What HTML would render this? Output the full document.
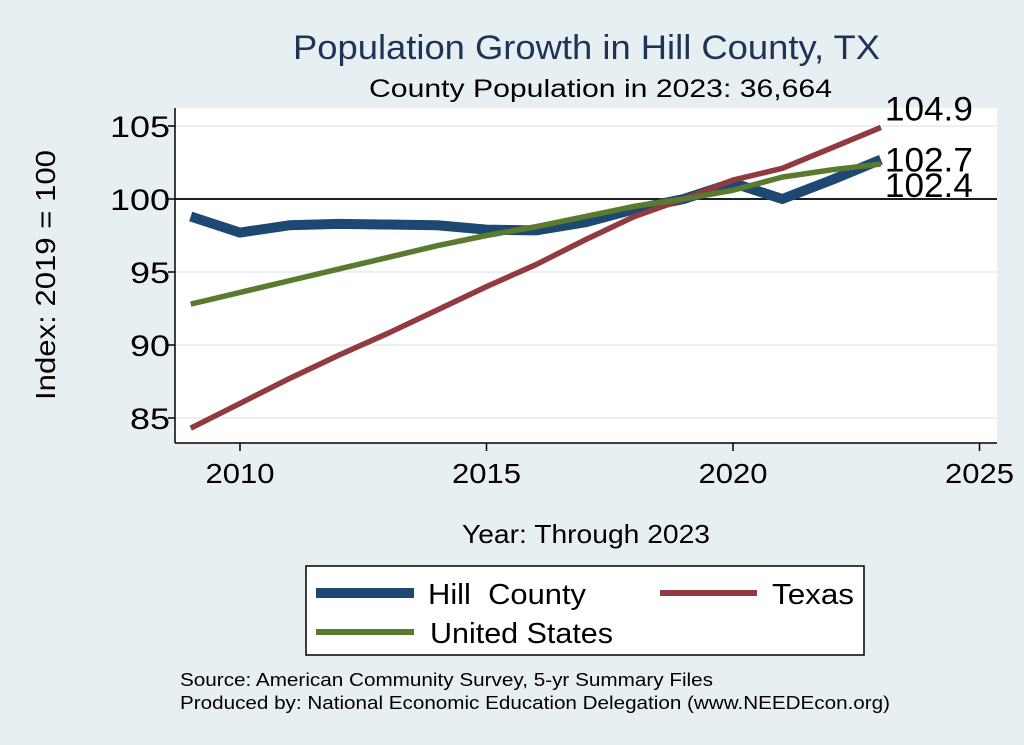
<!DOCTYPE html>
<html><head><meta charset="utf-8"><style>
body{margin:0;background:#e8eff2;}
svg{display:block;font-family:"Liberation Sans",sans-serif;}
</style></head><body>
<svg id="chart" width="1024" height="745">
<rect x="0" y="0" width="1024" height="745" fill="#e8eff2"/>
<text x="293" y="59" font-size="34" fill="#1e3358" textLength="587" lengthAdjust="spacingAndGlyphs">Population Growth in Hill County, TX</text>
<text x="369" y="97" font-size="25" fill="#000" textLength="463" lengthAdjust="spacingAndGlyphs">County Population in 2023: 36,664</text>
<rect x="175" y="108" width="822" height="335" fill="#fff"/>
<g id="grid"></g><g id="axes"></g><g id="series"></g><g id="labels"></g>
<text x="462" y="543" font-size="26" textLength="248" lengthAdjust="spacingAndGlyphs">Year: Through 2023</text>
<text transform="translate(55,275) rotate(-90)" font-size="28" text-anchor="middle" textLength="250" lengthAdjust="spacingAndGlyphs">Index: 2019 = 100</text>
<g>
<rect x="306" y="566" width="558" height="89" fill="#fff" stroke="#000" stroke-width="1.5"/>
<g><line x1="316" y1="593" x2="414" y2="593" stroke="#1c4872" stroke-width="10"/><text x="428" y="604" font-size="29" xml:space="preserve" textLength="158" lengthAdjust="spacingAndGlyphs">Hill  County</text></g>
<g><line x1="660" y1="593" x2="757" y2="593" stroke="#913a40" stroke-width="6"/><text x="772" y="604" font-size="29" textLength="82" lengthAdjust="spacingAndGlyphs">Texas</text></g>
<g><line x1="316" y1="632" x2="414" y2="632" stroke="#5a7a30" stroke-width="6"/><text x="430" y="643" font-size="29" textLength="183" lengthAdjust="spacingAndGlyphs">United States</text></g>
</g>
<text x="180" y="686" font-size="18" textLength="533" lengthAdjust="spacingAndGlyphs">Source: American Community Survey, 5-yr Summary Files</text>
<text x="180" y="709" font-size="18" textLength="710" lengthAdjust="spacingAndGlyphs">Produced by: National Economic Education Delegation (www.NEEDEcon.org)</text>
</svg>
<script>
const years=[2009,2010,2011,2012,2013,2014,2015,2016,2017,2018,2019,2020,2021,2022,2023];
const hillValues=[98.8,97.7,98.2,98.3,98.25,98.2,97.9,97.85,98.4,99.3,100,101.1,100,101.3,102.7];
const texasValues=[84.3,86.0,87.7,89.3,90.8,92.4,94.0,95.5,97.2,98.8,100,101.3,102.1,103.5,104.9];
const usValues=[92.8,93.6,94.4,95.2,96.0,96.8,97.5,98.1,98.8,99.5,100,100.6,101.5,102.0,102.4];
const xTicks=[2010,2015,2020,2025];
const yTicks=[85,90,95,100,105];
const NS="http://www.w3.org/2000/svg";
const xs=v=>240+(v-2010)*49.3;
const ys=v=>199-(v-100)*14.6;
function mk(t,a,p){const e=document.createElementNS(NS,t);for(const k in a)e.setAttribute(k,a[k]);p.appendChild(e);return e;}
const grid=document.getElementById('grid'),axes=document.getElementById('axes'),ser=document.getElementById('series'),lab=document.getElementById('labels');
yTicks.forEach(v=>{
 const g=mk('line',{x1:175,x2:997,y1:ys(v),y2:ys(v),stroke:'#eaf0f3','stroke-width':2},grid);
 
 
 const t=mk('line',{x1:168,x2:175,y1:ys(v),y2:ys(v),stroke:'#000','stroke-width':1.5},axes);
 
 
 const l=mk('text',{x:170,y:ys(v)+11,'font-size':30,'text-anchor':'end',textLength:String(v).length*20,lengthAdjust:'spacingAndGlyphs'},axes);l.textContent=v;
 
 
});
const ref=mk('line',{x1:175,x2:997,y1:ys(100),y2:ys(100),stroke:'#000','stroke-width':1.8},grid);


const ya=mk('line',{x1:175,x2:175,y1:108,y2:443,stroke:'#000','stroke-width':1.5},axes);


const xa=mk('line',{x1:175,x2:997,y1:443,y2:443,stroke:'#000','stroke-width':1.5},axes);


xTicks.forEach(v=>{
 const t=mk('line',{x1:xs(v),x2:xs(v),y1:443,y2:451,stroke:'#000','stroke-width':1.5},axes);
 
 
 const l=mk('text',{x:xs(v),y:483,'font-size':28,'text-anchor':'middle',textLength:69,lengthAdjust:'spacingAndGlyphs'},axes);l.textContent=v;
 
 
});
function line(vals,color,w,name){
 const p=mk('polyline',{points:vals.map((v,i)=>xs(years[i])+','+ys(v)).join(' '),fill:'none',stroke:color,'stroke-width':w,'stroke-linejoin':'round'},ser);
 
 
}
line(hillValues,'#1c4872',10,'hill-county-line');
line(texasValues,'#913a40',5.5,'texas-line');
line(usValues,'#5a7a30',5.5,'united-states-line');
const last=years.length-1;
[[texasValues[last],'texas-end-label',-7],[hillValues[last],'hill-end-label',12],[usValues[last],'us-end-label',33]].forEach(([v,n,dy])=>{
 const t=mk('text',{x:xs(years[last])+4,y:ys(v)+dy,'font-size':34,textLength:88,lengthAdjust:'spacingAndGlyphs'},lab);t.textContent=v.toFixed(1);
 
 
});
</script>
</body></html>
